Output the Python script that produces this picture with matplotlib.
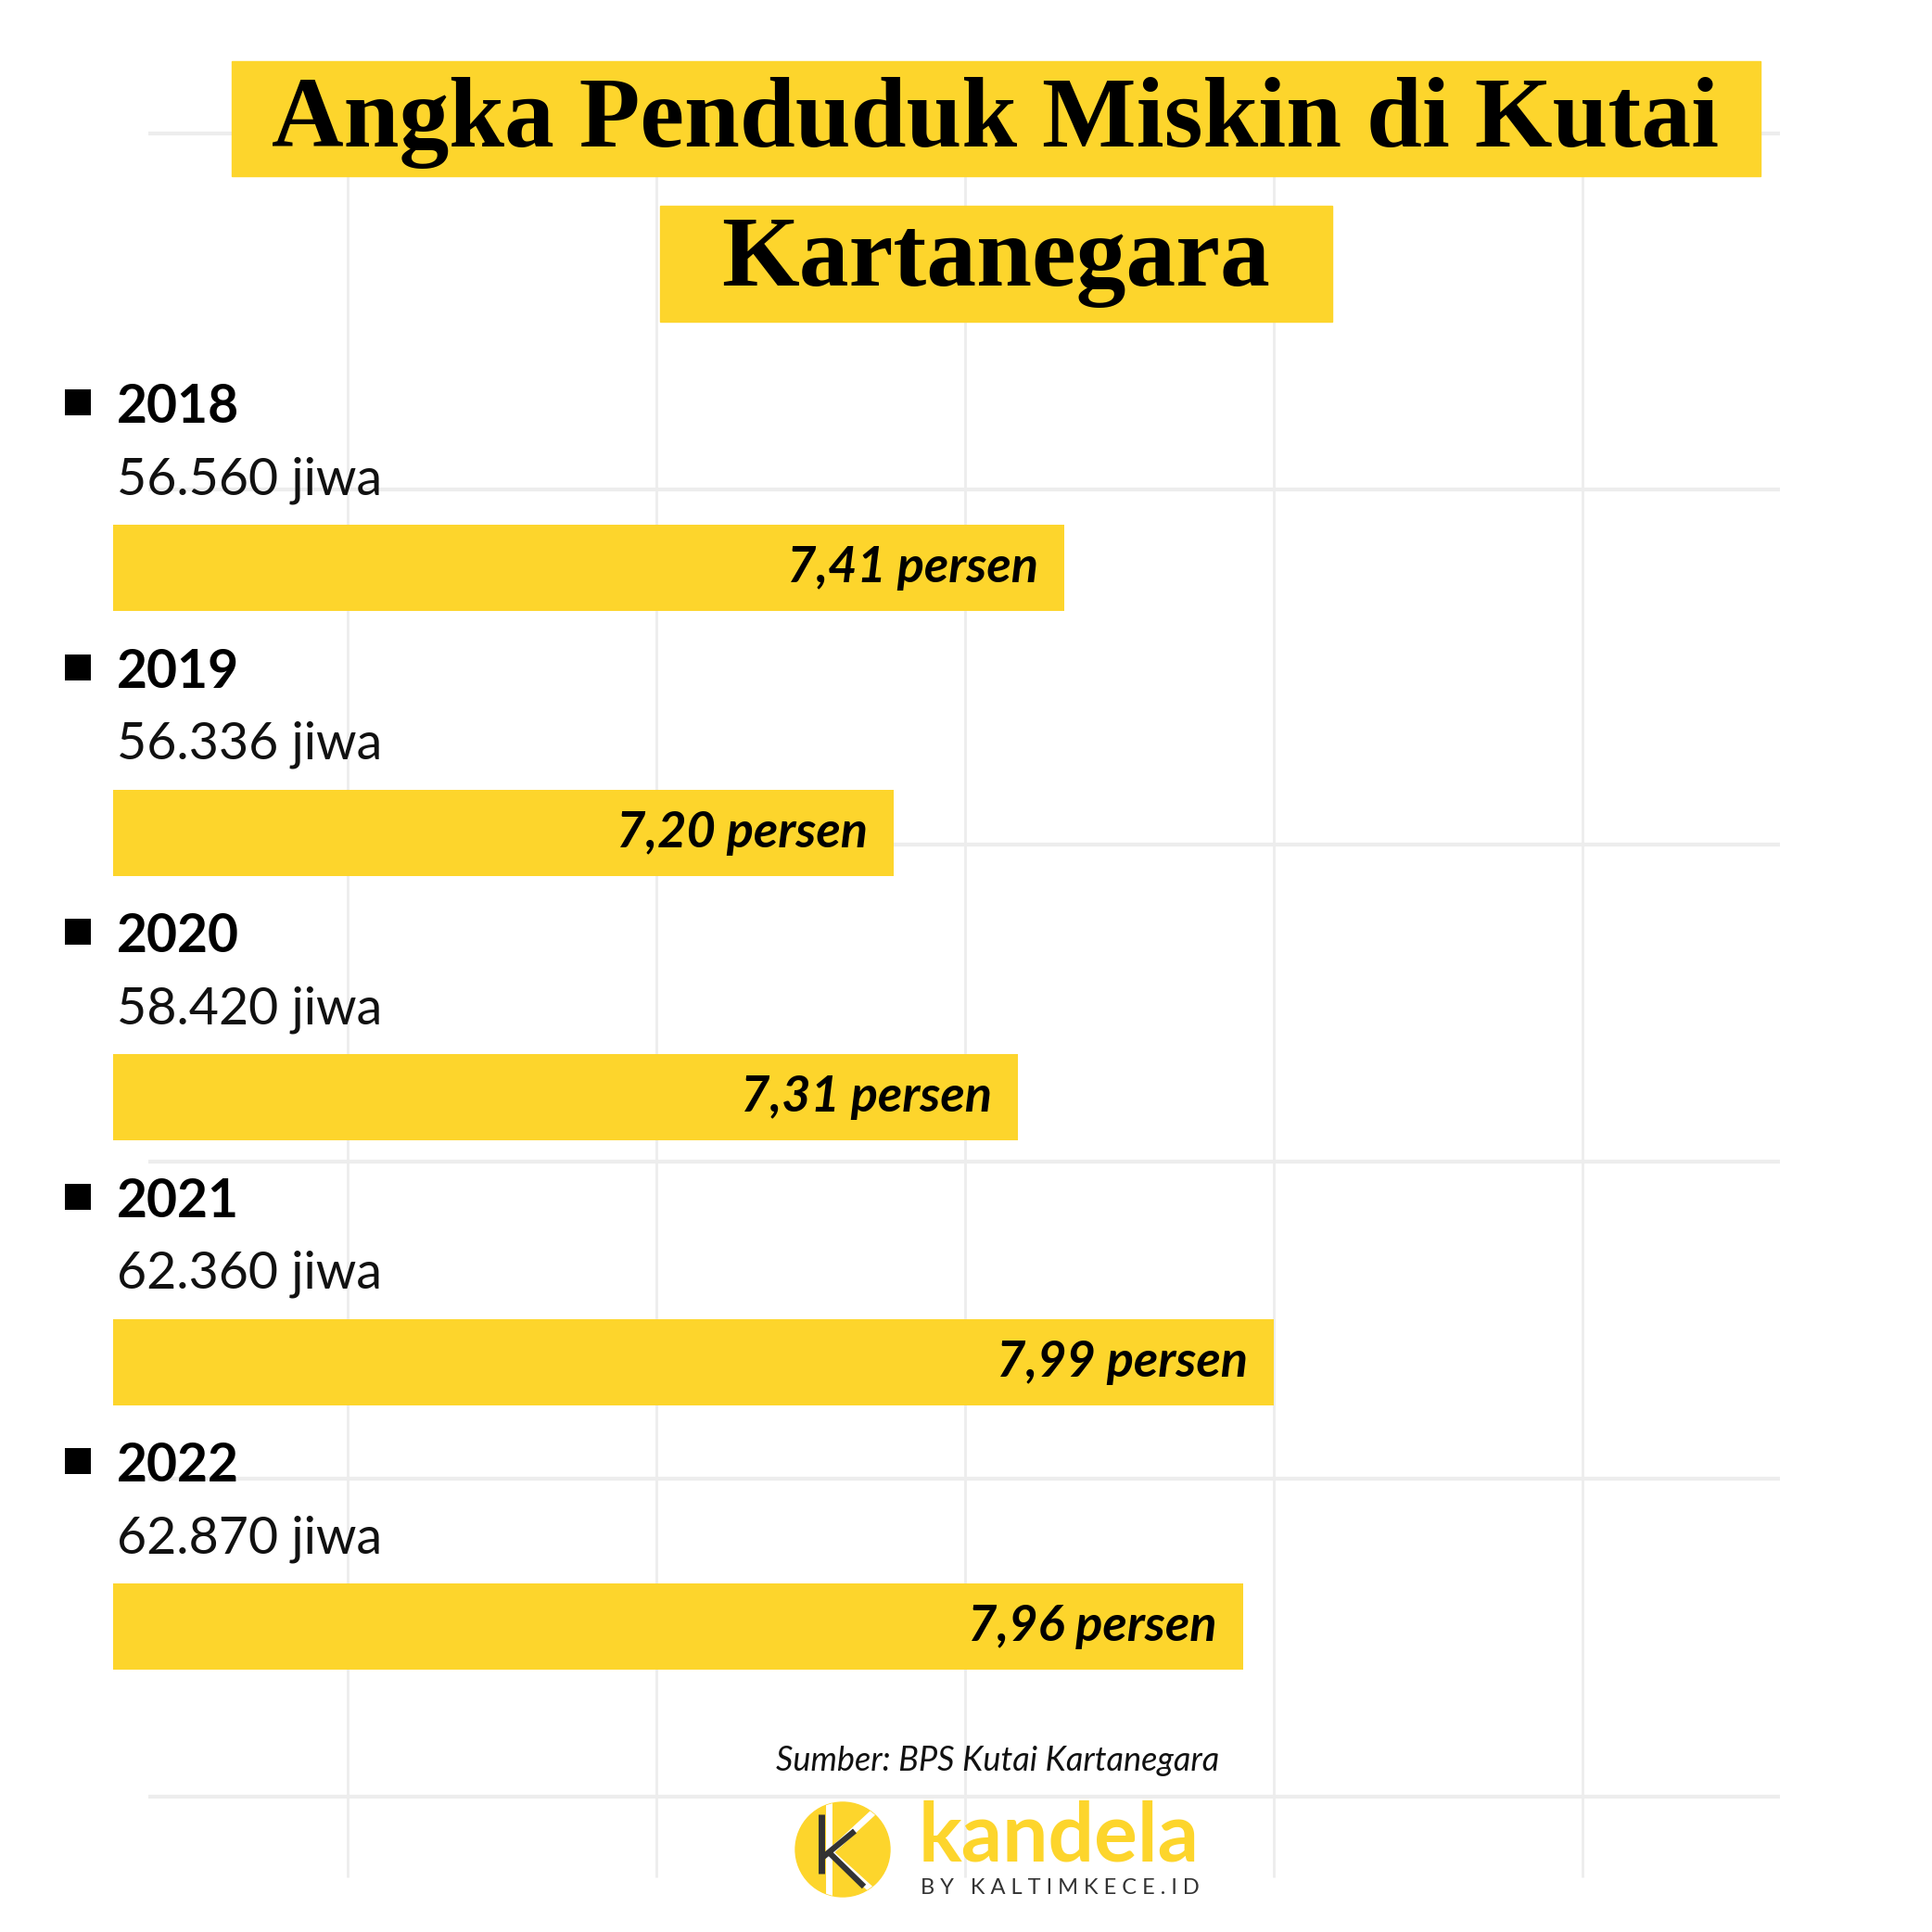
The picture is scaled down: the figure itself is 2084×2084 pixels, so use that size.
import matplotlib
matplotlib.use("Agg")
import matplotlib.pyplot as plt
from matplotlib.patches import Rectangle, Circle
import numpy as np

years = ["2018", "2019", "2020", "2021", "2022"]
jiwa = ["56.560", "56.336", "58.420", "62.360", "62.870"]
persen = ["7,41", "7,20", "7,31", "7,99", "7,96"]
# bar lengths as drawn in the graphic, in grid cells (the artwork does not scale them to persen)
bar_len = [3.08, 2.53, 2.93, 3.76, 3.66]

title_lines = ["Angka Penduduk Miskin di Kutai", "Kartanegara"]
source = "Sumber: BPS Kutai Kartanegara"
brand = "kandela"
brand_sub = "B Y   K A L T I M K E C E . I D"

YELLOW = "#FDD52C"
GRID = "#EDEDED"
DARK = "#333333"
W = H = 2084
CELL = 333      # px per background grid cell
BAR_X0 = 122    # left edge of bars (px)
ROW = 285.5     # px per row
ROW0 = 612.5    # centre of first bar (px)

fig = plt.figure(figsize=(W / 100, H / 100), dpi=100)
fig.patch.set_facecolor("white")

# full-figure canvas in pixel coords for the decoration
bg = fig.add_axes([0, 0, 1, 1])
bg.set_xlim(0, W)
bg.set_ylim(H, 0)
bg.axis("off")

# faint background grid
grid_x = 42 + CELL * np.arange(1, 6)
grid_y = [144, 528, 911, 1253, 1595, 1938]
bg.vlines(grid_x, 100, 2025, color=GRID, lw=2, zorder=0)
bg.hlines(grid_y, 160, 1920, color=GRID, lw=3, zorder=0)

# title boxes
bg.add_patch(Rectangle((250, 66), 1649, 124, color=YELLOW, zorder=2))
bg.add_patch(Rectangle((712, 222), 725, 125, color=YELLOW, zorder=2))
bg.text(1074, 158, title_lines[0], ha="center", va="baseline",
        family="Liberation Serif", weight="bold", fontsize=77.5, zorder=3)
bg.text(1074, 308, title_lines[1], ha="center", va="baseline",
        family="Liberation Serif", weight="bold", fontsize=77.5, zorder=3)

# bars
top = ROW0 - ROW / 2
height = ROW * len(years)
ax = fig.add_axes([BAR_X0 / W, 1 - (top + height) / H, (W - BAR_X0) / W, height / H])
ax.set_xlim(0, (W - BAR_X0) / CELL)
ax.set_ylim(len(years) - 0.5, -0.5)
ax.axis("off")
ax.patch.set_alpha(0)

ypos = np.arange(len(years))
ax.barh(ypos, bar_len, height=93 / ROW, color=YELLOW, zorder=2)


def px(x):
    return (x - BAR_X0) / CELL


for i in ypos:
    ax.plot(px(84), i - 0.625, marker="s", ms=20, mew=0, color="black", clip_on=False)
    ax.text(px(126), i - 0.548, years[i], family="Lato", weight="bold",
            fontsize=41, va="baseline", ha="left")
    ax.text(px(126), i - 0.278, f"{jiwa[i]} jiwa", family="Lato",
            fontsize=40, va="baseline", ha="left", color="#111111")
    ax.annotate(f"{persen[i]} persen", xy=(bar_len[i], i + 0.055),
                xytext=(-28, 0), textcoords="offset pixels",
                ha="right", va="baseline", family="Lato", weight="bold",
                style="italic", fontsize=39, zorder=3)

# source
bg.text(1315, 1910, source, ha="right", va="baseline", style="italic",
        family="Lato", fontsize=26, color="#111111")

# logo
circ = Circle((909, 1995), 51, color=YELLOW, zorder=2)
bg.add_patch(circ)
for xs, ys in [([894, 894], [1940, 2050]),
               ([890, 955], [2003, 1943]),
               ([893, 955], [1996, 2052])]:
    ln, = bg.plot(xs, ys, color="white", lw=5, solid_capstyle="butt", zorder=3)
    ln.set_clip_path(circ)
bg.plot([886, 886], [1957, 2021], color=DARK, lw=5, solid_capstyle="butt", zorder=4)
bg.plot([888, 922], [2003, 1975], color=DARK, lw=4.5, solid_capstyle="butt", zorder=4)
bg.plot([893, 932], [1997, 2035], color=DARK, lw=4.5, solid_capstyle="butt", zorder=4)

bg.text(991, 2007, brand, family="Lato", weight="bold", fontsize=63,
        color=YELLOW, va="baseline", ha="left", zorder=3)
bg.text(993, 2043, brand_sub, family="Lato", fontsize=17, color=DARK,
        va="baseline", ha="left", zorder=3)

fig.savefig("out.png", dpi=100, facecolor="white")
